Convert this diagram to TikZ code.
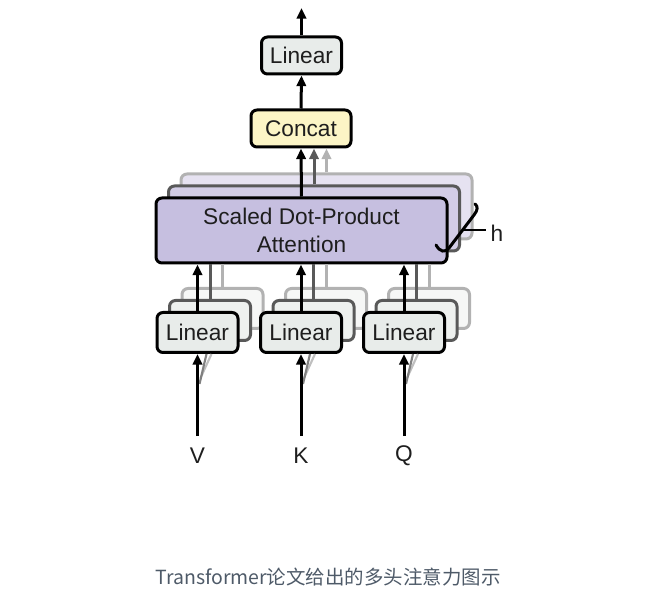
\documentclass[tikz,border=0pt]{standalone}
\usepackage{fontspec}
\setmainfont{Liberation Sans}
\newfontfamily\cjk{Noto Sans CJK SC}
\usetikzlibrary{arrows.meta}
\definecolor{linfill}{HTML}{E8ECEA}
\definecolor{linfillB}{HTML}{EEF1EF}
\definecolor{linfillC}{HTML}{F6F7F6}
\definecolor{catfill}{HTML}{FCF5C6}
\definecolor{sdpfill}{HTML}{C6BFE0}
\definecolor{sdpfillB}{HTML}{D3CDE6}
\definecolor{sdpfillC}{HTML}{E6E2F1}
\definecolor{capcol}{HTML}{4E5A68}
\definecolor{txt}{HTML}{1E1E1E}
\begin{document}
\begin{tikzpicture}[x=0.75pt,y=-0.75pt,
  box/.style={draw=black, line width=2.25pt, rounded corners=4.5pt, inner sep=0pt,
    font=\fontsize{17}{20.5}\selectfont, text=txt, align=center},
  layerB/.style={draw=black!65, line width=2.25pt, rounded corners=4.5pt, inner sep=0pt},
  layerC/.style={draw=black!30, line width=2.25pt, rounded corners=4.5pt, inner sep=0pt},
  arr/.style={line width=2.25pt, -{Triangle[length=8pt,width=7pt]}},
  lbl/.style={font=\fontsize{17}{20}\selectfont, text=txt, inner sep=0pt}]
\useasboundingbox (0,0) rectangle (650,602);

% SDPA back layers
\node[layerC, fill=sdpfillC, minimum width=291*0.75pt, minimum height=65*0.75pt] (sdpaC) at (326.5,206.5) {};
\node[layerB, fill=sdpfillB, minimum width=291*0.75pt, minimum height=65*0.75pt] (sdpaB) at (314,218.5) {};

% Concat and top linear
\node[box, fill=catfill, minimum width=100*0.75pt, minimum height=37*0.75pt] (concat) at (301,128.5) {Concat};
\node[box, fill=linfill, minimum width=80*0.75pt, minimum height=37*0.75pt] (lout) at (301.5,55.5) {Linear};
\coordinate (top) at (301.5,8);

% grey arrows from back heads to concat
\draw[arr, black!30] (sdpaC.north) -- (sdpaC.north |- concat.south);
\draw[arr, black!65] (sdpaB.north) -- (sdpaB.north |- concat.south);

% bottom linear back layers
\foreach \n/\x in {v/197.5, k/301, q/404}{
  \node[layerC, fill=linfillC, minimum width=81*0.75pt, minimum height=40*0.75pt] (l\n C) at (\x+25,308.5) {};
  \node[layerB, fill=linfillB, minimum width=81*0.75pt, minimum height=40*0.75pt] (l\n B) at (\x+12.5,320.5) {};
}

% front SDPA
\node[box, fill=sdpfill, minimum width=291*0.75pt, minimum height=65*0.75pt] (sdpa) at (301.5,230.5) {Scaled Dot-Product\\Attention};

% grey lines from back linear layers to attention
\foreach \n in {v,k,q}{
  \draw[line width=2.25pt, black!30] (l\n C.north) -- (l\n C.north |- sdpa.south);
  \draw[line width=2.25pt, black!65] (l\n B.north) -- (l\n B.north |- sdpa.south);
}

% front linear boxes
\foreach \n/\x/\t in {v/197.5/V, k/301/K, q/404/Q}{
  \node[box, fill=linfill, minimum width=81*0.75pt, minimum height=40*0.75pt] (l\n) at (\x,332.5) {Linear};
  \node[lbl] (in\n) at (\x,456) {\t};
  \coordinate (src\n) at (\x,436);
  \draw[line width=1.6pt, black!25] (\x+3,378) -- (\x+14,354);
  \draw[line width=1.6pt, black!50] (\x+2,384) -- (\x+9,354);
  \draw[arr] (src\n) -- (l\n.south);
  \draw[arr] (l\n.north) -- (l\n.north |- sdpa.south);
}

% black main arrows
\draw[arr] (sdpa.north) -- (concat.south);
\draw[arr] (concat.north) -- (lout.south);
\draw[arr] (lout.north) -- (top);

% h bracket
\node[lbl] (h) at (497,233) {h};
\coordinate (hl) at (462,230);
\coordinate (hr) at (486,230);
\draw[line width=1.5pt] (hl) -- (hr);
\draw[line width=2.25pt, line cap=round] (436,245) .. controls (440,252) and (445,253) .. (449,248) -- (474,215) .. controls (478,210) and (478,206) .. (475,204);

% caption
\node[font=\cjk\fontsize{14.6}{17}\selectfont, text=capcol, inner sep=0pt] (cap) at (328,577) {Transformer论文给出的多头注意力图示};
\end{tikzpicture}
\end{document}
